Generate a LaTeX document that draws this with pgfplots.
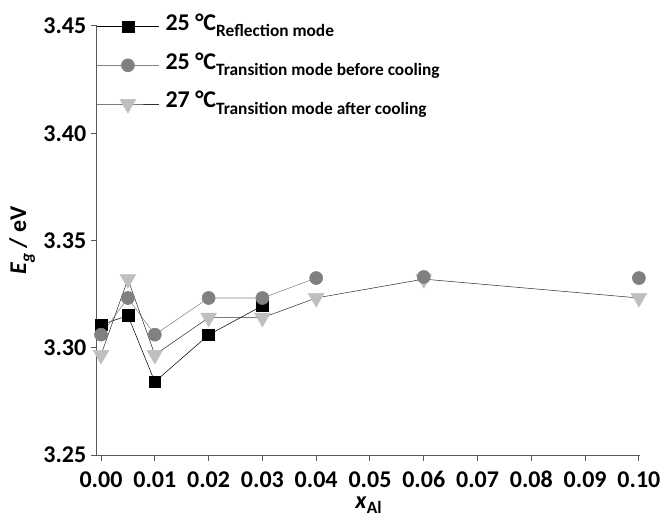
\documentclass[border=0pt]{standalone}
\usepackage{pgfplots}
\pgfplotsset{compat=1.18}
\usepackage{fontspec}
\setmainfont{Carlito}[Numbers=Lining]

\definecolor{axisgray}{RGB}{89,89,89}
\definecolor{midgray}{RGB}{128,128,128}
\definecolor{lightgray}{RGB}{191,191,191}

% band gap vs Al content
\pgfplotstableread{
x      Eg
0.000  3.3107
0.005  3.3150
0.010  3.2841
0.020  3.3060
0.030  3.3196
}\reflection
\pgfplotstableread{
x      Eg
0.000  3.3061
0.005  3.3232
0.010  3.3061
0.020  3.3232
0.030  3.3232
0.040  3.3325
}\beforecool
\pgfplotstableread{
x      Eg
0.060  3.3330
0.100  3.3325
}\beforecooltail
\pgfplotstableread{
x      Eg
0.000  3.2967
0.005  3.3320
0.010  3.2967
0.020  3.3140
0.030  3.3140
0.040  3.3232
0.060  3.3320
0.100  3.3232
}\aftercool

\begin{document}
\begin{tikzpicture}
\begin{axis}[
  scale only axis,
  width=407.25pt, height=321.75pt,
  xmin=-0.00075, xmax=0.1002,
  ymin=3.25, ymax=3.45,
  axis x line*=bottom, axis y line*=left,
  axis line style={axisgray, line width=0.75pt, -},
  every tick/.style={axisgray, line width=0.75pt},
  tick align=outside, major tick length=4.5pt,
  xtick={0,0.01,0.02,0.03,0.04,0.05,0.06,0.07,0.08,0.09,0.10},
  ytick={3.25,3.30,3.35,3.40,3.45},
  scaled x ticks=false, scaled y ticks=false,
  xticklabel style={anchor=north, inner sep=0.5pt, text height=11.5pt, text depth=0pt, yshift=-7.5pt,
    /pgf/number format/.cd, fixed, fixed zerofill, precision=2, assume math mode=true},
  yticklabel style={/pgf/number format/.cd, fixed, fixed zerofill, precision=2, assume math mode=true},
  tick label style={font=\fontsize{18}{18}\selectfont\bfseries, black},
  every axis x label/.style={at={(axis description cs:0.5,0)}, anchor=base, yshift=-40pt, inner sep=0.5pt},
  every axis y label/.style={at={(axis description cs:-0.138,0.5)}, anchor=center, rotate=90},
  label style={font=\fontsize{18}{18}\selectfont\bfseries},
  xlabel={\textit{x}\raisebox{-3.5pt}{\fontsize{13}{13}\selectfont Al}},
  ylabel={\textit{E}\raisebox{-4.5pt}{\fontsize{13}{13}\selectfont\textit{g}} / eV},
  legend style={at={(0,1)}, anchor=north west, yshift=10.5pt, draw=none, fill=none,
    inner sep=0pt, outer sep=0pt, row sep=7pt, column sep=5pt,
    font=\fontsize{18}{18}\selectfont\bfseries,
    nodes={inner sep=0pt, text height=14pt, text depth=8pt}},
  legend cell align=left,
  legend image code/.code={
    \draw[mark repeat=2, mark phase=2, #1] plot coordinates {(0pt,0pt) (23pt,0pt) (46pt,0pt)};
  },
]
\addplot[black, line width=0.4pt, mark=square*, mark size=4.4pt,
  mark options={solid, fill=black, draw=black}] table[x=x, y=Eg] {\reflection};
\addlegendentry{25 °C\raisebox{-4.5pt}{\fontsize{13}{13}\selectfont Reflection mode}}

\addplot[midgray, line width=0.4pt, mark=*, mark size=4.9pt,
  mark options={solid, fill=midgray, draw=midgray}] table[x=x, y=Eg] {\beforecool};
\addlegendentry{25 °C\raisebox{-4.5pt}{\fontsize{13}{13}\selectfont Transition mode before cooling}}

\addplot[black!80, line width=0.4pt, mark=triangle*, mark size=6.8pt,
  mark options={solid, fill=lightgray, draw=lightgray, rotate=180}] table[x=x, y=Eg] {\aftercool};
\addlegendentry{27 °C\raisebox{-4.5pt}{\fontsize{13}{13}\selectfont Transition mode after cooling}}

\addplot[only marks, mark=*, mark size=4.9pt, forget plot,
  mark options={solid, fill=midgray, draw=midgray}] table[x=x, y=Eg] {\beforecooltail};
\end{axis}
\pgfresetboundingbox
\path (-72.75pt,-48pt) rectangle (423.75pt,341.25pt);
\end{tikzpicture}
\end{document}
